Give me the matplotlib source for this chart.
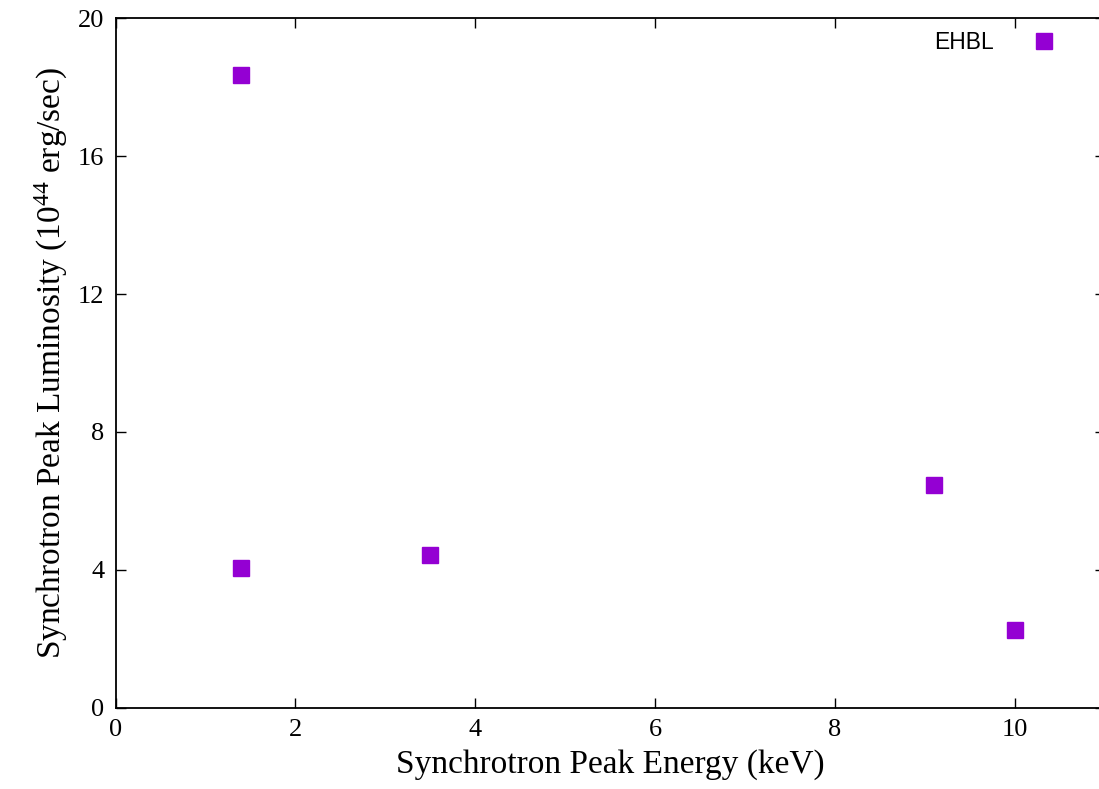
import matplotlib
matplotlib.use("Agg")
import matplotlib.pyplot as plt

energy_kev = [1.4, 1.4, 3.5, 9.1, 10.0]
luminosity = [4.05, 18.35, 4.42, 6.47, 2.25]
xticks = [0, 2, 4, 6, 8, 10]
yticks = [0, 4, 8, 12, 16, 20]

plt.rcParams['mathtext.fontset'] = 'custom'
plt.rcParams['mathtext.rm'] = 'Liberation Serif'
plt.rcParams['mathtext.it'] = 'Liberation Serif:italic'

fig = plt.figure(figsize=(10.99, 7.89), dpi=100)
ax = fig.add_axes([115.5/1099, 1-707.7/789, 989/1099, (707.7-18.3)/789])

ax.plot(energy_kev, luminosity, linestyle='none', marker='s', markersize=11.5,
        color='#9400D3', label='EHBL')

ax.set_xlim(0, 11)
ax.set_ylim(0, 20)
ax.set_xticks(xticks)
ax.set_yticks(yticks)
ax.tick_params(direction='in', length=7, width=1, top=True, right=True,
               labelsize=19, pad=8)
for lab in ax.get_xticklabels() + ax.get_yticklabels():
    lab.set_fontfamily('Liberation Serif')
for s in ax.spines.values():
    s.set_linewidth(1.3)

ax.set_xlabel('Synchrotron Peak Energy (keV)', fontfamily='Liberation Serif', fontsize=24, labelpad=6)
ax.set_ylabel(r'Synchrotron Peak Luminosity (10$^{44}$ erg/sec)', fontfamily='Liberation Serif', fontsize=24, labelpad=6)

leg = ax.legend(loc='upper right', bbox_to_anchor=(1070/1099, 1-22/789), bbox_transform=fig.transFigure,
                frameon=False, markerfirst=False, prop={'family': 'Liberation Sans', 'size': 16.5},
                handlelength=1.5, handletextpad=1.4, borderaxespad=0)

fig.savefig('out.png', dpi=100)
